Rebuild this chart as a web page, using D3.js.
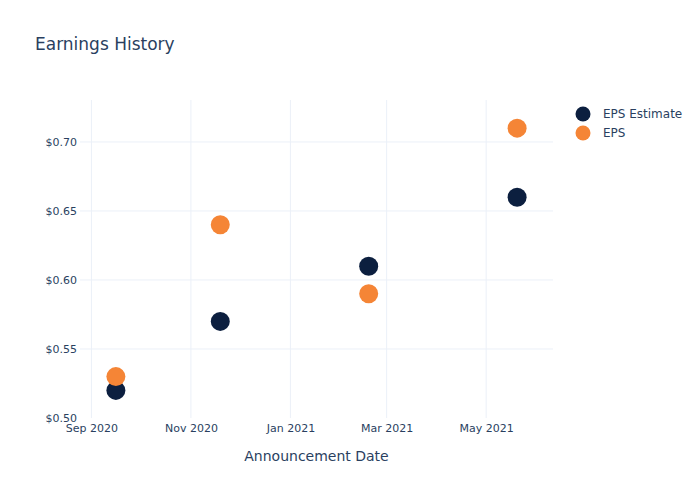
<!DOCTYPE html>
<html>
<head>
<meta charset="utf-8">
<script src="https://cdn.jsdelivr.net/npm/d3@7"></script>
<style>
body{margin:0;background:#fff;}
text{font-family:"DejaVu Sans",sans-serif;}
</style>
</head>
<body>
<svg id="chart" width="700" height="500"></svg>
<script>
const dates = ["2020-09-16","2020-11-19","2021-02-18","2021-05-20"];
const epsEstimate = [0.52,0.57,0.61,0.66];
const eps = [0.53,0.64,0.59,0.71];
const seriesNames = ["EPS Estimate","EPS"];
const seriesColors = ["#0c1f3f","#f58536"];
const yTicks = [0.50,0.55,0.60,0.65,0.70];
const xTicks = ["2020-09-01","2020-11-01","2021-01-01","2021-03-01","2021-05-01"];

const parse = d3.utcParse("%Y-%m-%d");
const svg = d3.select("#chart");
const L=80, R=553, T=100, B=418;
const x = d3.scaleUtc().domain([parse("2020-08-25"), parse("2021-06-11")]).range([L,R]);
const y = d3.scaleLinear().domain([0.5,0.7304]).range([B,T]);
const txt = "#2a3f5f";
const ff = "'DejaVu Sans',sans-serif";

svg.append("text").attr("x",35).attr("y",50).attr("font-size",17).attr("fill",txt).text("Earnings History");

const grid = svg.append("g");
grid.selectAll("line.v").data(xTicks).join("line")
  .attr("x1",d=>x(parse(d))).attr("x2",d=>x(parse(d))).attr("y1",T).attr("y2",B)
  .attr("stroke","#ebf0f8").attr("stroke-width",1);
grid.selectAll("line.h").data(yTicks.slice(1)).join("line")
  .attr("x1",L).attr("x2",R).attr("y1",d=>y(d)).attr("y2",d=>y(d))
  .attr("stroke","#ebf0f8").attr("stroke-width",1);

const yAxis = d3.axisLeft(y).tickValues(yTicks).tickSize(0).tickPadding(3).tickFormat(d=>"$"+d.toFixed(2));
const ya = svg.append("g").attr("transform",`translate(${L},0)`).call(yAxis);
ya.select(".domain").remove();
ya.selectAll("text").attr("font-size",11).attr("fill",txt).attr("font-family",ff);

const xAxis = d3.axisBottom(x).tickValues(xTicks.map(parse)).tickSize(0).tickPadding(6).tickFormat(d3.utcFormat("%b %Y"));
const xa = svg.append("g").attr("transform",`translate(0,${B})`).call(xAxis);
xa.select(".domain").remove();
xa.selectAll("text").attr("font-size",11).attr("fill",txt).attr("font-family",ff);

svg.append("text").attr("x",(L+R)/2).attr("y",461).attr("text-anchor","middle")
  .attr("font-size",14).attr("fill",txt).text("Announcement Date");

const series = [epsEstimate, eps];
series.forEach((vals,i)=>{
  svg.append("g").selectAll("circle").data(vals).join("circle")
    .attr("cx",(d,j)=>x(parse(dates[j]))).attr("cy",d=>y(d)).attr("r",9.5)
    .attr("fill",seriesColors[i]);
});

const leg = svg.append("g");
seriesNames.forEach((n,i)=>{
  leg.append("circle").attr("cx",583).attr("cy",114+19*i).attr("r",7.5).attr("fill",seriesColors[i]);
  leg.append("text").attr("x",603).attr("y",118+19*i).attr("font-size",12).attr("fill",txt).text(n);
});
</script>
</body>
</html>
